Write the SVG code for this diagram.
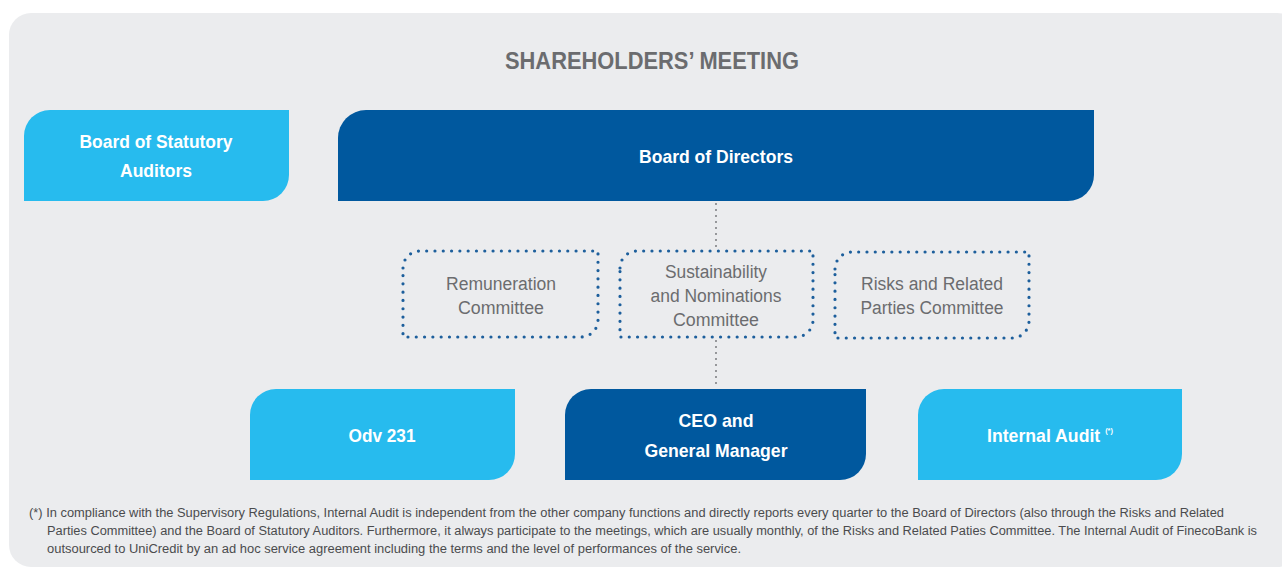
<svg xmlns="http://www.w3.org/2000/svg" width="1282" height="571" viewBox="0 0 1282 571">
<style>
.bg{fill:#ebecee}
.light{fill:#27bbee}
.dark{fill:#00589e}
.com{fill:none;stroke:#1d5f9c;stroke-width:3.2;stroke-linecap:round;stroke-dasharray:0 8.3}
.conn{fill:none;stroke:#7a7b7e;stroke-width:2;stroke-linecap:round;stroke-dasharray:0 6}
.title{font-family:"Liberation Sans",Arial,sans-serif;font-weight:bold;font-size:23px;fill:#6b6c6f;text-anchor:middle}
.wt{font-family:"Liberation Sans",Arial,sans-serif;font-weight:bold;font-size:19px;fill:#ffffff;text-anchor:middle}
.gt{font-family:"Liberation Sans",Arial,sans-serif;font-size:18px;fill:#6b6c6f;text-anchor:middle}
.sup{font-size:8px}
.fn{font-family:"Liberation Sans",Arial,sans-serif;font-size:12.5px;fill:#4a4b4d}
</style>
<rect class="bg" x="9" y="13" width="1290" height="554" rx="22"/>
<text class="title" x="652" y="69" textLength="294" lengthAdjust="spacingAndGlyphs">SHAREHOLDERS’ MEETING</text>

<g id="connectors">
<line class="conn" x1="716" y1="204" x2="716" y2="249"/>
<line class="conn" x1="716" y1="341" x2="716" y2="387"/>
</g>

<g id="board-statutory-auditors">
<path class="light" d="M24,136 A26,26 0 0 1 50,110 H289 V175 A26,26 0 0 1 263,201 H24 Z"/>
<text class="wt" x="156" y="148" textLength="153" lengthAdjust="spacingAndGlyphs">Board of Statutory</text>
<text class="wt" x="156" y="177" textLength="72" lengthAdjust="spacingAndGlyphs">Auditors</text>
</g>

<g id="board-directors">
<path class="dark" d="M338,138 A28,28 0 0 1 366,110 H1094 V175 A26,26 0 0 1 1068,201 H338 Z"/>
<text class="wt" x="716" y="163" textLength="154" lengthAdjust="spacingAndGlyphs">Board of Directors</text>
</g>

<g id="remuneration-committee">
<path class="com" d="M403,268 A17,17 0 0 1 420,251 H598 V320 A17,17 0 0 1 581,337 H403 Z"/>
<text class="gt" x="501" y="290" textLength="110" lengthAdjust="spacingAndGlyphs">Remuneration</text>
<text class="gt" x="501" y="314" textLength="86" lengthAdjust="spacingAndGlyphs">Committee</text>
</g>

<g id="sustainability-committee">
<path class="com" d="M620,268 A17,17 0 0 1 637,251 H813 V320 A17,17 0 0 1 796,337 H620 Z"/>
<text class="gt" x="716" y="278" textLength="102" lengthAdjust="spacingAndGlyphs">Sustainability</text>
<text class="gt" x="716" y="302" textLength="131" lengthAdjust="spacingAndGlyphs">and Nominations</text>
<text class="gt" x="716" y="326" textLength="86" lengthAdjust="spacingAndGlyphs">Committee</text>
</g>

<g id="risks-committee">
<path class="com" d="M835,269 A17,17 0 0 1 852,252 H1029 V321 A17,17 0 0 1 1012,338 H835 Z"/>
<text class="gt" x="932" y="290" textLength="142" lengthAdjust="spacingAndGlyphs">Risks and Related</text>
<text class="gt" x="932" y="314" textLength="143" lengthAdjust="spacingAndGlyphs">Parties Committee</text>
</g>

<g id="odv-231">
<path class="light" d="M250,415 A26,26 0 0 1 276,389 H515 V454 A26,26 0 0 1 489,480 H250 Z"/>
<text class="wt" x="382" y="442" textLength="67" lengthAdjust="spacingAndGlyphs">Odv 231</text>
</g>

<g id="ceo">
<path class="dark" d="M565,415 A26,26 0 0 1 591,389 H866 V454 A26,26 0 0 1 840,480 H565 Z"/>
<text class="wt" x="716" y="427" textLength="75" lengthAdjust="spacingAndGlyphs">CEO and</text>
<text class="wt" x="716" y="457" textLength="143" lengthAdjust="spacingAndGlyphs">General Manager</text>
</g>

<g id="internal-audit">
<path class="light" d="M918,415 A26,26 0 0 1 944,389 H1182 V454 A26,26 0 0 1 1156,480 H918 Z"/>
<text class="wt" x="1050" y="442" textLength="126" lengthAdjust="spacingAndGlyphs">Internal Audit <tspan class="sup" dy="-9">(*)</tspan></text>
</g>

<g id="footnote">
<text class="fn" x="29" y="517" textLength="1195" lengthAdjust="spacingAndGlyphs">(*) In compliance with the Supervisory Regulations, Internal Audit is independent from the other company functions and directly reports every quarter to the Board of Directors (also through the Risks and Related</text>
<text class="fn" x="47" y="535" textLength="1210" lengthAdjust="spacingAndGlyphs">Parties Committee) and the Board of Statutory Auditors. Furthermore, it always participate to the meetings, which are usually monthly, of the Risks and Related Paties Committee. The Internal Audit of FinecoBank is</text>
<text class="fn" x="47" y="553" textLength="694" lengthAdjust="spacingAndGlyphs">outsourced to UniCredit by an ad hoc service agreement including the terms and the level of performances of the service.</text>
</g>
</svg>
